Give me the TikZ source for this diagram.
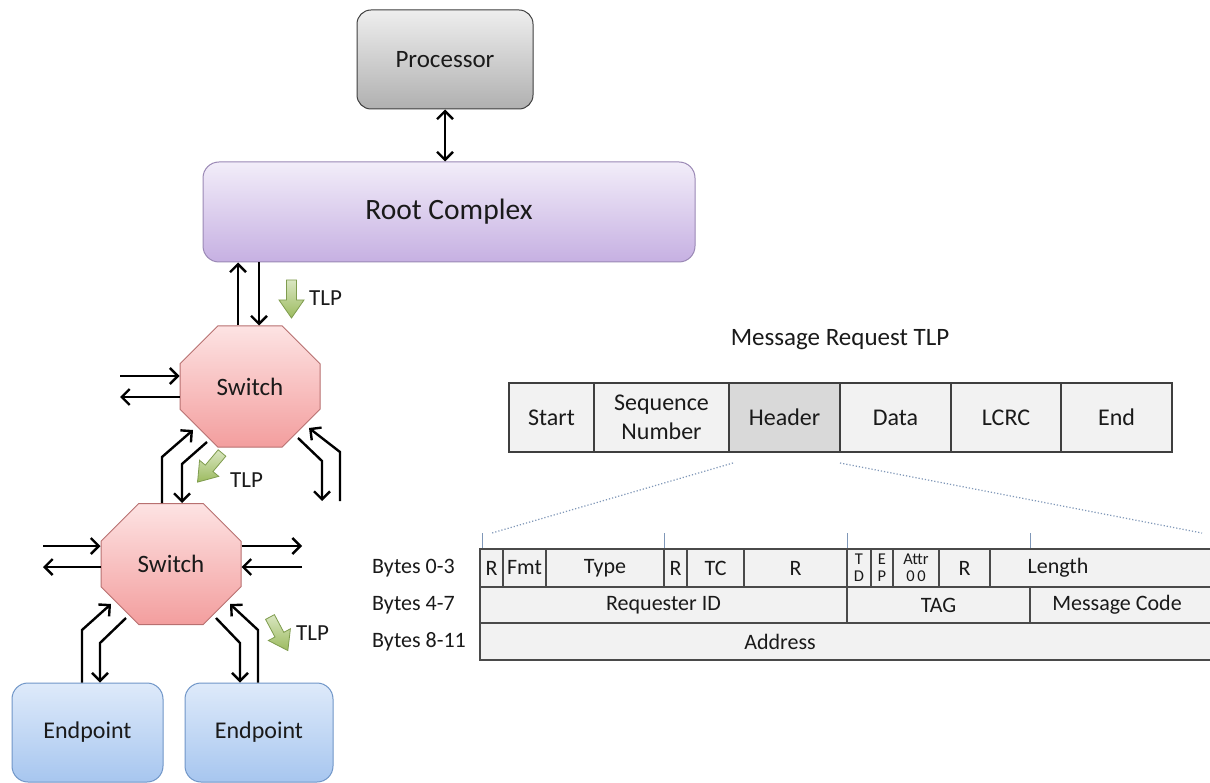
\documentclass[tikz,border=0pt]{standalone}
\usepackage{fontspec}
\setmainfont{Carlito}
\usetikzlibrary{arrows.meta,shapes.misc}
\definecolor{txt}{HTML}{1A1A1A}
\definecolor{proctop}{HTML}{EEEEEE}
\definecolor{procbot}{HTML}{B0B0B0}
\definecolor{procline}{HTML}{3F3F3F}
\definecolor{roottop}{HTML}{F2EDF9}
\definecolor{rootbot}{HTML}{C6B0E2}
\definecolor{rootline}{HTML}{9A88B5}
\definecolor{swtop}{HTML}{FDE3E3}
\definecolor{swbot}{HTML}{F39E9E}
\definecolor{swline}{HTML}{B87070}
\definecolor{eptop}{HTML}{DEEAFA}
\definecolor{epbot}{HTML}{A7C6EF}
\definecolor{epline}{HTML}{7096C8}
\definecolor{grtop}{HTML}{D9E6C1}
\definecolor{grbot}{HTML}{9CBB5F}
\definecolor{grline}{HTML}{7F9C4E}
\definecolor{cellfill}{HTML}{F2F2F2}
\definecolor{headfill}{HTML}{D9D9D9}
\definecolor{cellline}{HTML}{4A4A4A}
\definecolor{dotc}{HTML}{7F97B8}
\begin{document}
\begin{tikzpicture}[x=1pt,y=-1pt,
  box/.style={draw, line width=1pt, rounded corners=14pt, inner sep=0pt, text=txt},
  procsty/.style={box, draw=procline, top color=proctop, bottom color=procbot,
    minimum width=176pt, minimum height=99pt, font=\fontsize{25}{30}\selectfont},
  rootsty/.style={box, rounded corners=16pt, draw=rootline, top color=roottop, bottom color=rootbot,
    minimum width=492pt, minimum height=100pt, font=\fontsize{29.5}{34}\selectfont},
  swsty/.style={chamfered rectangle, chamfered rectangle xsep=32pt, chamfered rectangle ysep=29pt,
    draw=swline, line width=1pt, top color=swtop, bottom color=swbot, inner sep=0pt,
    minimum width=140pt, minimum height=121pt, text=txt, font=\fontsize{25}{30}\selectfont},
  epsty/.style={box, rounded corners=16pt, draw=epline, top color=eptop, bottom color=epbot,
    minimum height=99pt, font=\fontsize{24}{29}\selectfont},
  conn/.style={line width=2.4pt, draw=black},
  fwd/.style={-{Straight Barb[length=8pt,width=16pt]}},
  both/.style={{Straight Barb[length=8pt,width=16pt]}-{Straight Barb[length=8pt,width=16pt]}},
  tlpsty/.style={draw=grline, line width=0.8pt, top color=grtop, bottom color=grbot},
  tlplab/.style={inner sep=0pt, text=txt, font=\fontsize{23}{27}\selectfont},
  cell/.style={draw=cellline, line width=1.2pt, fill=cellfill, inner sep=0pt, text=txt,
    font=\fontsize{22}{26}\selectfont},
  topcell/.style={cell, line width=1.6pt, draw=cellline!85!black, minimum height=69pt,
    align=center, font=\fontsize{24}{29}\selectfont},
  small/.style={cell, align=center, font=\fontsize{16.5}{17}\selectfont},
  lab/.style={inner sep=0pt, text=txt, font=\fontsize{22}{26}\selectfont},
  dotline/.style={dotted, line width=1.2pt, draw=dotc},
  tick/.style={line width=0.8pt, draw=dotc},
  tlparrow/.pic={\draw[tlpsty] (-5,0) -- (-5,20) -- (-12.5,20) -- (0,38) -- (12.5,20) -- (5,20) -- (5,0) -- cycle;}
]
\useasboundingbox (0,0) rectangle (1210,783);
\fill[white] (0,0) rectangle (1210,783);

% ---------- left diagram ----------
\node[procsty] (proc) at (445,59.5) {Processor};
\node[rootsty] (root) at (449,212) {Root Complex};
\node[swsty] (sw1) at (250,386.5) {Switch};
\node[swsty] (sw2) at (171,564) {Switch};
\node[epsty, minimum width=151pt] (ep1) at (87.5,732.5) {Endpoint};
\node[epsty, minimum width=148pt] (ep2) at (259,732.5) {Endpoint};

\draw[conn,both] (proc.south) -- (proc.south |- root.north);

% root <-> switch 1
\draw[conn,fwd] (238,0 |- sw1.north) -- (238,0 |- root.south);
\draw[conn,fwd] (259,0 |- root.south) -- (259,0 |- sw1.north);

% switch 1 left
\draw[conn,fwd] (120,376) -- (120,376 -| sw1.west);
\draw[conn,fwd] (sw1.west |- 0,397) -- (120,397);

% switch 1 <-> switch 2
\coordinate (s1a) at (193,430);
\coordinate (s1b) at (207,442);
\draw[conn,fwd] (162,0 |- sw2.north) -- (162,457) -- (s1a);
\draw[conn,fwd] (s1b) -- (182,464) -- (182,0 |- sw2.north);

% switch 1 lower right
\coordinate (s1c) at (298,438);
\coordinate (s1d) at (309,428);
\coordinate (s1e) at (322,501);
\coordinate (s1f) at (340,501);
\draw[conn,fwd] (s1c) -- (322,461) -- (s1e);
\draw[conn,fwd] (s1f) -- (340,452) -- (s1d);

% switch 2 left and right
\draw[conn,fwd] (43,546) -- (43,546 -| sw2.west);
\draw[conn,fwd] (sw2.west |- 0,567) -- (43,567);
\draw[conn,fwd] (sw2.east |- 0,546) -- (302,546);
\draw[conn,fwd] (302,567) -- (302,567 -| sw2.east);

% switch 2 <-> endpoints
\coordinate (s2a) at (111,604);
\coordinate (s2b) at (126,618);
\coordinate (s2c) at (216,618);
\coordinate (s2d) at (230,604);
\draw[conn,fwd] (82,0 |- ep1.north) -- (82,630) -- (s2a);
\draw[conn,fwd] (s2b) -- (100,643) -- (100,0 |- ep1.north);
\draw[conn,fwd] (s2c) -- (240,643) -- (240,0 |- ep2.north);
\draw[conn,fwd] (258,0 |- ep2.north) -- (258,630) -- (s2d);

% TLP block arrows
\pic at (291.5,280) {tlparrow};
\node[tlplab, anchor=west] (tlp1) at (309,298) {TLP};
\pic[rotate=-40] at (222,453) {tlparrow};
\node[tlplab, anchor=west] (tlp2) at (230,480) {TLP};
\pic[rotate=28] at (270,617) {tlparrow};
\node[tlplab, anchor=west] (tlp3) at (296,633) {TLP};

% ---------- message request TLP ----------
\node[lab, font=\fontsize{25}{30}\selectfont] (title) at (840,340) {Message Request TLP};
\node[topcell, minimum width=85pt]  (tstart) at (551.5,417.5) {Start};
\node[topcell, minimum width=135pt] (tseq)   at (661.5,417.5) {Sequence\\Number};
\node[topcell, minimum width=111pt, fill=headfill] (thead) at (784.5,417.5) {Header};
\node[topcell, minimum width=111pt] (tdata)  at (895.5,417.5) {Data};
\node[topcell, minimum width=110pt] (tlcrc)  at (1006,417.5) {LCRC};
\node[topcell, minimum width=111pt] (tend)   at (1116.5,417.5) {End};

% ---------- header layout ----------
\node[lab, anchor=west] (by0) at (372,568) {Bytes 0-3};
\node[lab, anchor=west] (by4) at (372,605) {Bytes 4-7};
\node[lab, anchor=west] (by8) at (372,642) {Bytes 8-11};

\node[cell, minimum width=23pt,  minimum height=38pt] (c1)  at (491.5,568) {R};
\node[cell, minimum width=43pt,  minimum height=38pt] (c2)  at (524.5,568) {Fmt};
\node[cell, minimum width=118pt, minimum height=38pt] (c3)  at (605,568) {Type};
\node[cell, minimum width=23pt,  minimum height=38pt] (c4)  at (675.5,568) {R};
\node[cell, minimum width=57pt,  minimum height=38pt] (c5)  at (715.5,568) {TC};
\node[cell, minimum width=103pt, minimum height=38pt] (c6)  at (795.5,568) {R};
\node[small, minimum width=24pt, minimum height=38pt] (c7)  at (859,568) {T\\D};
\node[small, minimum width=22pt, minimum height=38pt] (c8)  at (882,568) {E\\P};
\node[small, minimum width=46pt, minimum height=38pt] (c9)  at (916,568) {Attr\\0\,0};
\node[cell, minimum width=51pt,  minimum height=38pt] (c10) at (964.5,568) {R};
\node[cell, minimum width=225pt, minimum height=38pt] (c11) at (1102.5,568) {};
\node[lab] (len) at (1058,568) {Length};

\node[cell, minimum width=367pt, minimum height=36pt] (reqid) at (663.5,605) {Requester ID};
\node[cell, minimum width=183pt, minimum height=36pt] (tag)   at (938.5,605) {TAG};
\node[cell, minimum width=185pt, minimum height=36pt] (mcode) at (1122.5,605) {};
\node[lab] (mcodelab) at (1117,605) {Message Code};

\node[cell, minimum width=735pt, minimum height=37pt] (addr) at (847.5,641.5) {};
\node[lab] (addrlab) at (780,641.5) {Address};

% ticks
\draw[tick] (482,533) -- (482,0 |- c1.north);
\draw[tick] (664,533) -- (664,0 |- c4.north);
\draw[tick] (847,533) -- (847,0 |- c7.north);
\draw[tick] (1030,533) -- (1030,0 |- c11.north);

% dotted zoom lines
\coordinate (z1) at (733,463);
\coordinate (z2) at (840,463);
\coordinate (z3) at (492,533);
\coordinate (z4) at (1202,533);
\draw[dotline] (z1) -- (z3);
\draw[dotline] (z2) -- (z4);
\end{tikzpicture}
\end{document}
